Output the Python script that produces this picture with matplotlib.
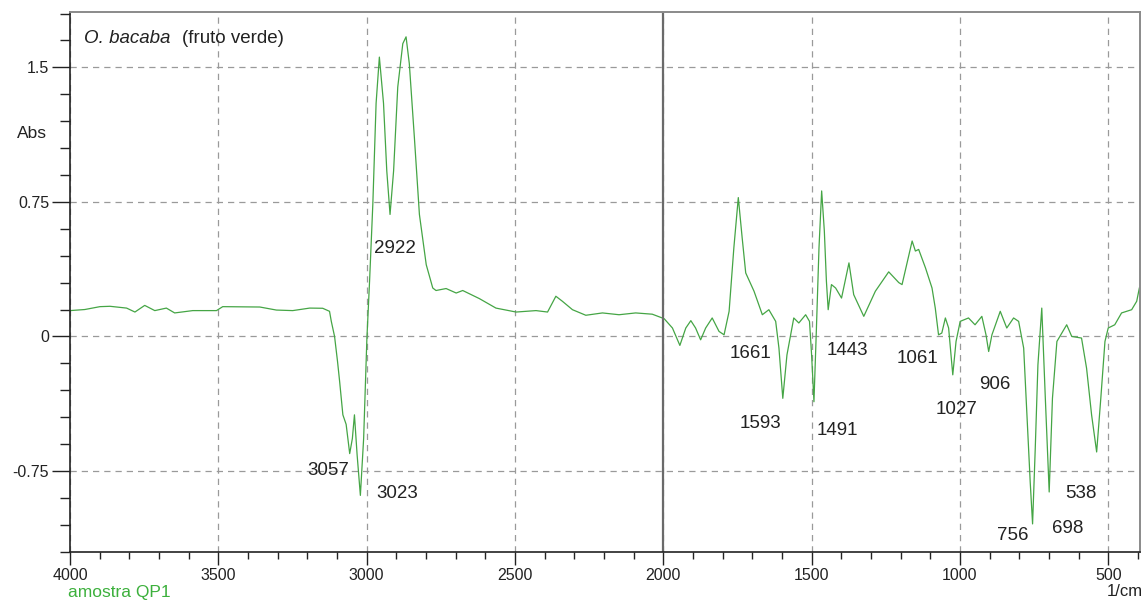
import matplotlib.pyplot as plt
from matplotlib.ticker import MultipleLocator

plt.rcParams['font.family'] = ['Liberation Sans', 'DejaVu Sans']

# spectrum (wavenumber in 1/cm, absorbance)
wavenumber = [4000, 3950, 3899, 3865, 3809, 3781, 3748, 3714, 3675, 3647,
              3586, 3506, 3485, 3360, 3304, 3249, 3192, 3148, 3125, 3119,
              3108, 3098, 3091, 3080, 3069, 3057, 3048, 3041, 3032, 3021,
              3010, 2999, 2990, 2979, 2968, 2957, 2943, 2932, 2921, 2909,
              2895, 2878, 2867, 2856, 2839, 2822, 2799, 2777, 2766, 2732,
              2698, 2676, 2620, 2564, 2496, 2429, 2390, 2362, 2340, 2306,
              2261, 2205, 2149, 2093, 2037, 1997, 1969, 1944, 1924, 1907,
              1891, 1874, 1857, 1835, 1812, 1795, 1778, 1762, 1747, 1734,
              1722, 1694, 1666, 1644, 1621, 1610, 1597, 1583, 1560, 1543,
              1520, 1507, 1500, 1492, 1484, 1475, 1466, 1457, 1450, 1444,
              1433, 1419, 1399, 1374, 1358, 1324, 1285, 1240, 1206, 1195,
              1161, 1150, 1139, 1116, 1094, 1083, 1072, 1061, 1049, 1038,
              1024, 1013, 999, 971, 949, 926, 912, 903, 892, 864,
              842, 819, 802, 785, 774, 763, 755, 746, 737, 724,
              712, 699, 688, 673, 640, 623, 590, 573, 556, 539,
              525, 511, 500, 478, 455, 421, 404, 395]
absorbance = [0.144, 0.150, 0.166, 0.168, 0.158, 0.136, 0.173, 0.144, 0.158, 0.131,
              0.144, 0.144, 0.166, 0.164, 0.147, 0.144, 0.158, 0.157, 0.140, 0.084,
              0.0, -0.14, -0.25, -0.437, -0.49, -0.653, -0.569, -0.437, -0.66, -0.886,
              -0.569, -0.01, 0.308, 0.739, 1.30, 1.557, 1.30, 0.923, 0.68, 0.923,
              1.39, 1.632, 1.67, 1.52, 1.11, 0.68, 0.40, 0.27, 0.256, 0.267,
              0.242, 0.256, 0.211, 0.158, 0.136, 0.144, 0.136, 0.224, 0.196, 0.149,
              0.118, 0.131, 0.121, 0.131, 0.124, 0.099, 0.047, -0.05, 0.047, 0.088,
              0.047, -0.019, 0.047, 0.103, 0.028, 0.009, 0.14, 0.494, 0.774, 0.55,
              0.354, 0.252, 0.121, 0.149, 0.084, -0.065, -0.345, -0.103, 0.103, 0.075,
              0.121, 0.084, -0.10, -0.364, 0.028, 0.494, 0.811, 0.588, 0.308, 0.149,
              0.289, 0.27, 0.214, 0.41, 0.233, 0.112, 0.252, 0.36, 0.30, 0.289,
              0.532, 0.476, 0.485, 0.382, 0.27, 0.158, 0.009, 0.019, 0.103, 0.047,
              -0.214, -0.028, 0.084, 0.103, 0.065, 0.112, 0.009, -0.084, 0.009, 0.14,
              0.047, 0.103, 0.084, -0.065, -0.438, -0.811, -1.045, -0.625, -0.159, 0.158,
              -0.345, -0.867, -0.345, -0.028, 0.065, 0.0, -0.009, -0.177, -0.438, -0.644,
              -0.345, -0.028, 0.047, 0.065, 0.131, 0.149, 0.196, 0.27]

# peak labels and where they sit
peak_labels = ['2922', '3057', '3023', '1661', '1593', '1443', '1491',
               '1061', '1027', '906', '756', '698', '538']
label_x = [2903, 3128, 2896, 1705, 1671, 1381, 1412, 1142, 1011, 883, 823, 638, 591]
label_y = [0.49, -0.745, -0.873, -0.095, -0.487, -0.078, -0.526, -0.123, -0.41,
           -0.27, -1.11, -1.07, -0.873]

fig = plt.figure(figsize=(11.45, 6.01), dpi=100)
ax = fig.add_axes([0.0611, 0.082, 0.9345, 0.8985])

ax.plot(wavenumber, absorbance, color='#45a545', lw=0.9)
ax.axvline(2000, color='#6a6a6a', lw=1.6)

ax.set_xlim(4000, 393)
ax.set_ylim(-1.2, 1.81)
ax.xaxis.set_major_locator(MultipleLocator(500))
ax.xaxis.set_minor_locator(MultipleLocator(100))
ax.yaxis.set_major_locator(MultipleLocator(0.75))
ax.yaxis.set_minor_locator(MultipleLocator(0.15))
ax.set_yticks([-0.75, 0, 0.75, 1.5])
ax.set_yticklabels(['-0.75', '0', '0.75', '1.5'])

ax.grid(True, which='major', ls=(0, (5, 4)), color='#9a9a9a', lw=0.9)
ax.tick_params(axis='y', which='major', length=13, width=1, labelsize=11.5,
               pad=2, colors='#222222')
ax.tick_params(axis='y', which='minor', length=7, width=1, color='#222222')
ax.tick_params(axis='x', which='major', length=9, width=1, labelsize=11.5,
               pad=3, colors='#222222')
ax.tick_params(axis='x', which='minor', length=5, width=1, color='#222222')

for side in ['top', 'right']:
    ax.spines[side].set_color('#8a8a8a')
    ax.spines[side].set_linewidth(1.4)
for side in ['left', 'bottom']:
    ax.spines[side].set_color('#222222')
    ax.spines[side].set_linewidth(1.2)

for lab, lx, ly in zip(peak_labels, label_x, label_y):
    ax.text(lx, ly, lab, ha='center', va='center', fontsize=13.5, color='#222222')

ax.text(0.013, 0.951, 'O. bacaba', transform=ax.transAxes, fontsize=13.5,
        style='italic', va='center', color='#222222')
ax.text(0.105, 0.951, '(fruto verde)', transform=ax.transAxes, fontsize=13.5,
        va='center', color='#222222')

fig.text(32 / 1145, 1 - 134 / 601, 'Abs', fontsize=12.5, ha='center', va='center',
         color='#222222')
fig.text(68 / 1145, 1 - 593 / 601, 'amostra QP1', fontsize=12.5, ha='left',
         va='center', color='#3cb03c')
fig.text(1143 / 1145, 1 - 592 / 601, '1/cm', fontsize=12, ha='right',
         va='center', color='#222222')

fig.savefig('out.png', dpi=100)
